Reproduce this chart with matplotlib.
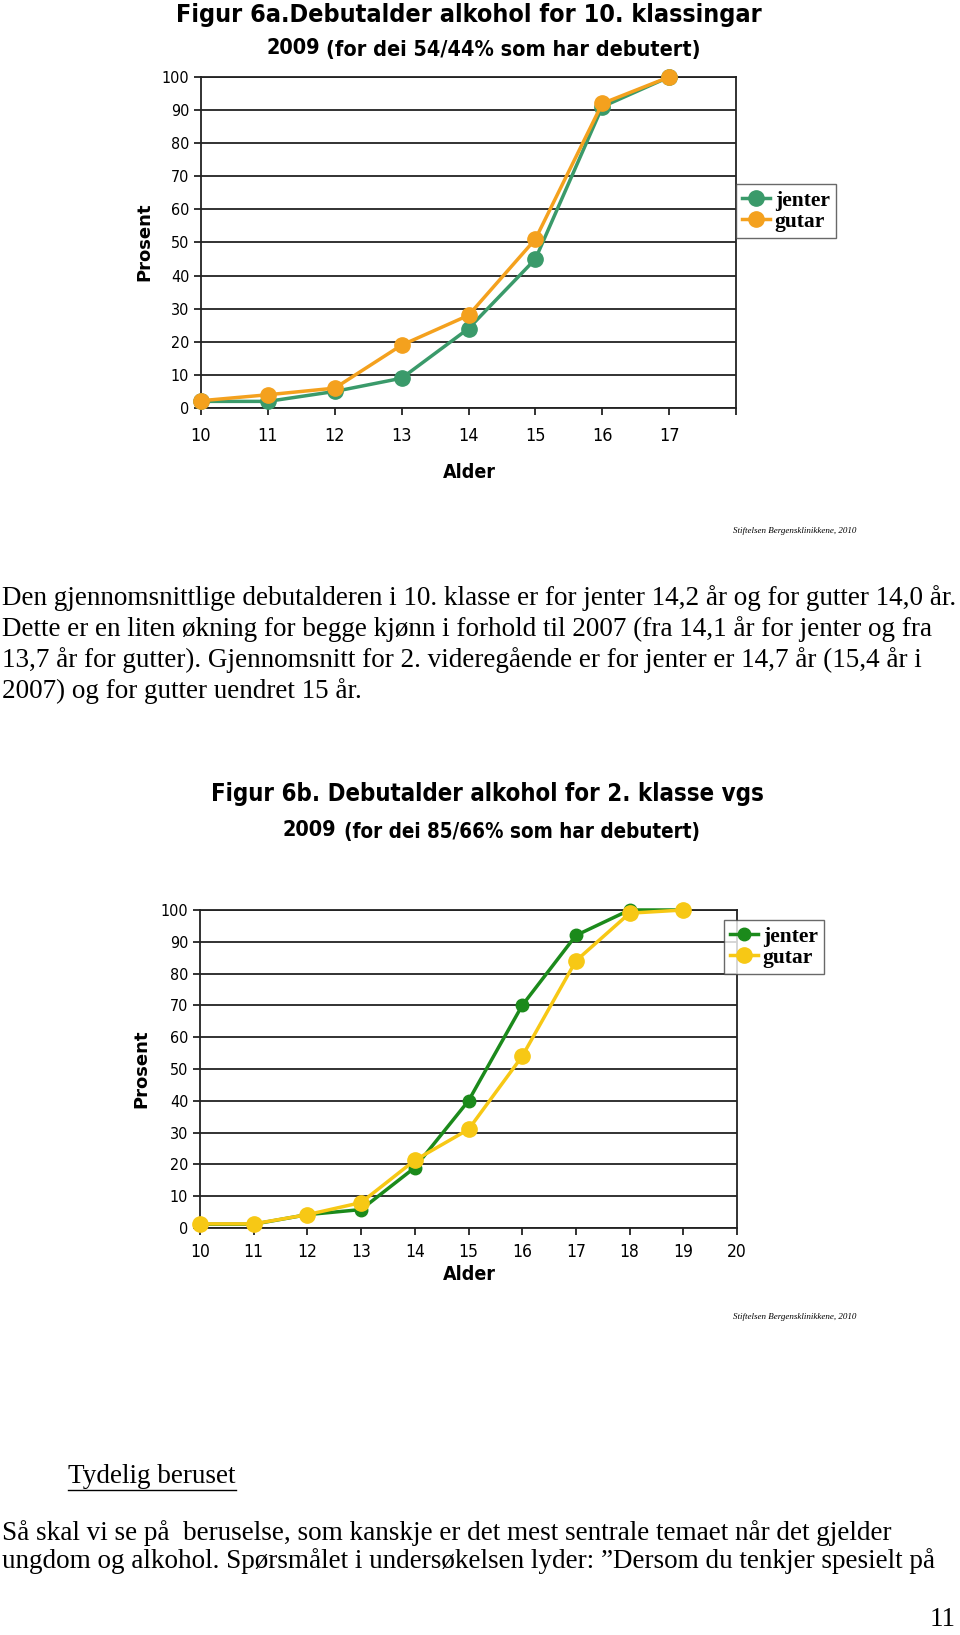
import numpy as np
import matplotlib
matplotlib.use('Agg')
import matplotlib.pyplot as plt
from matplotlib import font_manager as fm

''' ==== data ==== '''
alder_a = [10, 11, 12, 13, 14, 15, 16, 17]
jenter_a = [2, 2, 5, 9, 24, 45, 91, 100]
gutar_a = [2.2, 4, 6, 19, 28, 51, 92, 100]

alder_b = [10, 11, 12, 13, 14, 15, 16, 17, 18, 19]
jenter_b = [1.2, 1.2, 4.2, 5.8, 19, 40, 70, 92, 100, 100]
gutar_b = [1.3, 1.3, 4.2, 8, 21.3, 31, 54, 84, 99, 100]

yticks = [0, 10, 20, 30, 40, 50, 60, 70, 80, 90, 100]

tekst1 = ["Den gjennomsnittlige debutalderen i 10. klasse er for jenter 14,2 år og for gutter 14,0 år.",
          "Dette er en liten økning for begge kjønn i forhold til 2007 (fra 14,1 år for jenter og fra",
          "13,7 år for gutter). Gjennomsnitt for 2. videregående er for jenter er 14,7 år (15,4 år i",
          "2007) og for gutter uendret 15 år."]
tekst2 = ["Så skal vi se på  beruselse, som kanskje er det mest sentrale temaet når det gjelder",
          "ungdom og alkohol. Spørsmålet i undersøkelsen lyder: \u201dDersom du tenkjer spesielt på"]

''' ==== fonts ==== '''
names = set(f.name for f in fm.fontManager.ttflist)
sans = 'Liberation Sans Narrow' if 'Liberation Sans Narrow' in names else 'DejaVu Sans'
stretch = 'normal' if sans == 'Liberation Sans Narrow' else 'condensed'
serif = 'Liberation Serif'
body = 19.5

W, H = 960, 1635
fig = plt.figure(figsize=(W/100, H/100), dpi=100)

def fx(x): return x/W
def fy(y): return 1 - y/H

def chart(box, x, jen, gut, xlim, xlabels, cj, cg, msj, msg, lw, xpad, xfs):
    l, t, r, b = box
    ax = fig.add_axes([fx(l), fy(b), fx(r-l), (b-t)/H])
    ax.plot(x, jen, color=cj, lw=lw, marker='o', ms=msj, mec=cj, mfc=cj, label='jenter', zorder=3, clip_on=False)
    ax.plot(x, gut, color=cg, lw=lw, marker='o', ms=msg, mec=cg, mfc=cg, label='gutar', zorder=4, clip_on=False)
    ax.set_xlim(xlim)
    ax.set_ylim(0, 100)
    ax.set_yticks(yticks)
    ax.set_xticks(np.arange(xlim[0], xlim[1]+1))
    ax.set_xticklabels(xlabels)
    for v in yticks:
        ax.axhline(v, color='#222222', lw=1.3, zorder=1)
    for s in ax.spines.values():
        s.set_linewidth(1.3)
        s.set_color('#222222')
    ax.tick_params(direction='out', length=5, width=1.3, color='#222222')
    for lab in ax.get_yticklabels():
        lab.set_fontfamily(sans); lab.set_fontstretch(stretch); lab.set_fontsize(11.5)
    for lab in ax.get_xticklabels():
        lab.set_fontfamily(sans); lab.set_fontstretch(stretch); lab.set_fontsize(xfs)
    ax.tick_params(axis='x', pad=xpad)
    return ax

def legend(ax, anchor):
    lg = ax.legend(loc='upper left', bbox_to_anchor=anchor, frameon=True, fancybox=False,
                   prop={'family': serif, 'weight': 'bold', 'size': 15.5}, handlelength=1.3,
                   borderpad=0.3, labelspacing=0.05, handletextpad=0.2, borderaxespad=0)
    lg.get_frame().set_edgecolor('#444444'); lg.get_frame().set_linewidth(1.0)
    lg.set_zorder(10)
    return lg

# ---- Figur 6a
ax1 = chart((201, 77, 736, 408), alder_a, jenter_a, gutar_a, (10, 18),
            [str(v) for v in alder_a] + [''], '#3a9a6a', '#f4a11e', 11, 11, 2.5, 9, 13)
legend(ax1, (1.0, 1 - (184-77)/331))

fig.text(fx(469), fy(15), 'Figur 6a.Debutalder alkohol for 10. klassingar', ha='center', va='center',
         family=sans, stretch=stretch, weight='bold', fontsize=18)
fig.text(fx(267), fy(48), '2009', ha='left', va='center', family=sans, stretch=stretch, weight='bold', fontsize=15.5)
fig.text(fx(700), fy(50), '(for dei 54/44% som har debutert)', ha='right', va='center',
         family=sans, stretch=stretch, weight='bold', fontsize=15.5)
fig.text(fx(144), fy(242), 'Prosent', rotation=90, ha='center', va='center', family=sans, weight='bold', fontsize=13)
fig.text(fx(469), fy(472), 'Alder', ha='center', va='center', family=sans, stretch=stretch, weight='bold', fontsize=14)
fig.text(fx(856), fy(531), 'Stiftelsen Bergensklinikkene, 2010', ha='right', va='center',
         family=serif, style='italic', fontsize=6.5)

# ---- tekst
for i, s in enumerate(tekst1):
    fig.text(fx(2), fy(598 + i*31), s, ha='left', va='center', family=serif, fontsize=body)

# ---- Figur 6b
ax2 = chart((200, 910, 737, 1228), alder_b, jenter_b, gutar_b, (10, 20),
            [str(v) for v in range(10, 21)], '#1b8a1b', '#f7c815', 9, 11, 2.5, 6, 12.5)
legend(ax2, ((724-200)/537, 1 - (920-910)/318))

fig.text(fx(487), fy(794), 'Figur 6b. Debutalder alkohol for 2. klasse vgs', ha='center', va='center',
         family=sans, stretch=stretch, weight='bold', fontsize=17.2)
fig.text(fx(282), fy(830), '2009', ha='left', va='center', family=sans, stretch=stretch, weight='bold', fontsize=15.5)
fig.text(fx(700), fy(832), '(for dei 85/66% som har debutert)', ha='right', va='center',
         family=sans, stretch=stretch, weight='bold', fontsize=14.8)
fig.text(fx(141), fy(1069), 'Prosent', rotation=90, ha='center', va='center', family=sans, weight='bold', fontsize=13)
fig.text(fx(469), fy(1274), 'Alder', ha='center', va='center', family=sans, stretch=stretch, weight='bold', fontsize=14)
fig.text(fx(856), fy(1317), 'Stiftelsen Bergensklinikkene, 2010', ha='right', va='center',
         family=serif, style='italic', fontsize=6.5)

# ---- tekst 2
t = fig.text(fx(68), fy(1476), 'Tydelig beruset', ha='left', va='center', family=serif, fontsize=body)
fig.canvas.draw()
bb = t.get_window_extent()
fig.add_artist(plt.Line2D([bb.x0/W, bb.x1/W], [fy(1490), fy(1490)], color='black', lw=1.0))
for i, s in enumerate(tekst2):
    fig.text(fx(2), fy(1533 + i*28), s, ha='left', va='center', family=serif, fontsize=body)
fig.text(fx(956), fy(1619), '11', ha='right', va='center', family=serif, fontsize=body)

plt.savefig('out.png', dpi=100)
plt.close()
